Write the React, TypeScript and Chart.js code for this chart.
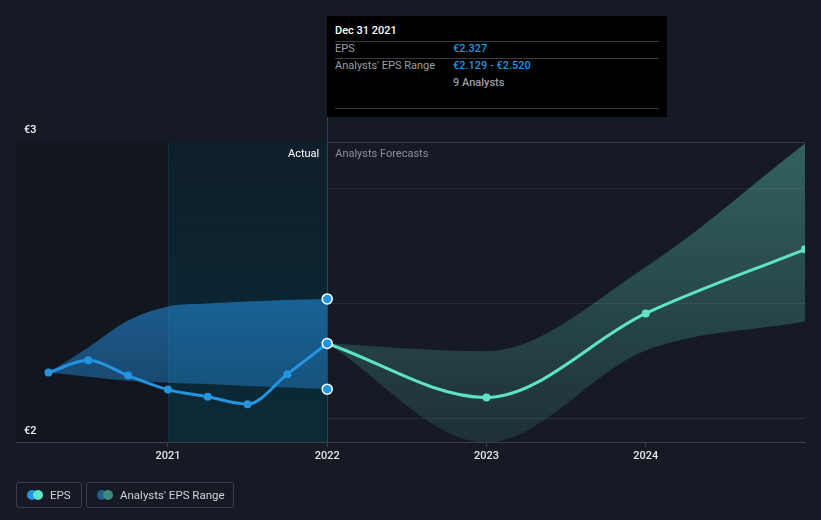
import React, { useEffect, useRef } from "react";
import { Chart, registerables } from "chart.js";

Chart.register(...registerables);

// ---- data ----
const pastDates = [2020.25, 2020.5, 2020.75, 2021.0, 2021.25, 2021.5, 2021.75, 2022.0];
const pastEps = [2.201, 2.254, 2.188, 2.127, 2.096, 2.064, 2.194, 2.327];
const pastHigh = [2.201, 2.31, 2.426, 2.487, 2.5, 2.509, 2.515, 2.52];
const pastLow = [2.201, 2.183, 2.165, 2.157, 2.151, 2.143, 2.136, 2.129];

const fcDates = [2022.0, 2023.0, 2024.0, 2025.0];
const fcEps = [2.327, 2.093, 2.457, 2.735];
const fcHigh = [2.327, 2.293, 2.658, 3.194];
const fcLow = [2.327, 1.897, 2.296, 2.422];

const highlightDate = 2022.0;
const highlightValues = [2.52, 2.327, 2.129];

const xTicks = [2021, 2022, 2023, 2024];
const yGrid = [2.0, 2.5, 3.0, 3.2];
const yLabelTop = "€3";
const yLabelBottom = "€2";

const FONT = "Roboto, 'Noto Sans', sans-serif";
const BG = "#151a24";
const BLUE = "#2394df";
const MINT = "#5ee3c8";

const zip = (xs: number[], ys: number[]) => xs.map((x, i) => ({ x, y: ys[i] }));

const overlayPlugin = {
  id: "overlay",
  beforeDatasetsDraw(chart: any) {
    const { ctx, chartArea, scales } = chart;
    const x = scales.x;
    const x21 = x.getPixelForValue(2021);
    const x22 = x.getPixelForValue(2022);
    ctx.save();
    ctx.fillStyle = "#12161f";
    ctx.fillRect(chartArea.left, chartArea.top, x21 - chartArea.left, chartArea.bottom - chartArea.top);
    const g = ctx.createLinearGradient(0, chartArea.top, 0, chartArea.bottom);
    g.addColorStop(0, "#0e1f2b");
    g.addColorStop(1, "#0b2a38");
    ctx.fillStyle = g;
    ctx.fillRect(x21, chartArea.top, x22 - x21, chartArea.bottom - chartArea.top);
    ctx.strokeStyle = "#11303f";
    ctx.lineWidth = 1;
    ctx.beginPath();
    ctx.moveTo(Math.round(x21) + 0.5, chartArea.top);
    ctx.lineTo(Math.round(x21) + 0.5, chartArea.bottom);
    ctx.stroke();
    ctx.strokeStyle = "#234656";
    ctx.beginPath();
    ctx.moveTo(Math.round(x22) + 0.5, 117);
    ctx.lineTo(Math.round(x22) + 0.5, chartArea.bottom);
    ctx.stroke();

    ctx.font = `11px ${FONT}`;
    ctx.textBaseline = "middle";
    ctx.fillStyle = "#ffffff";
    ctx.textAlign = "right";
    ctx.fillText("Actual", x22 - 8, chartArea.top + 12);
    ctx.fillStyle = "#8c9099";
    ctx.textAlign = "left";
    ctx.fillText("Analysts Forecasts", x22 + 8, chartArea.top + 12);

    ctx.fillStyle = "#f0f0f0";
    ctx.font = `500 11px ${FONT}`;
    ctx.textAlign = "left";
    ctx.fillText(yLabelTop, chartArea.left + 8, chartArea.top - 12);
    ctx.fillText(yLabelBottom, chartArea.left + 8, chartArea.bottom - 11);
    ctx.restore();
  },
};

function bandGradient(chart: any, top: string, bottom: string) {
  const { ctx, chartArea } = chart;
  if (!chartArea) return top;
  const g = ctx.createLinearGradient(0, chartArea.top, 0, chartArea.bottom);
  g.addColorStop(0, top);
  g.addColorStop(1, bottom);
  return g;
}

export default function App() {
  const ref = useRef<HTMLCanvasElement>(null);
  useEffect(() => {
    if (!ref.current) return;
    const chart = new Chart(ref.current, {
      type: "line",
      data: {
        datasets: [
          {
            data: highlightValues.map((y) => ({ x: highlightDate, y })),
            showLine: false,
            pointRadius: 5,
            pointBackgroundColor: BLUE,
            pointBorderColor: "#ffffff",
            pointBorderWidth: 1.5,
          } as any,
          {
            data: zip(pastDates, pastEps),
            borderColor: BLUE,
            borderWidth: 3,
            pointRadius: 4,
            pointBackgroundColor: BLUE,
            pointBorderWidth: 0,
            cubicInterpolationMode: "monotone",
            fill: false,
          },
          {
            data: zip(fcDates, fcEps),
            borderColor: MINT,
            borderWidth: 3,
            pointRadius: [0, 4, 4, 4],
            pointBackgroundColor: MINT,
            pointBorderWidth: 0,
            cubicInterpolationMode: "monotone",
            fill: false,
            clip: 0,
          },
          {
            data: zip(pastDates, pastHigh),
            borderWidth: 0,
            pointRadius: 0,
            cubicInterpolationMode: "monotone",
            fill: 4,
            backgroundColor: (c: any) => bandGradient(c.chart, "rgba(36,150,235,0.8)", "rgba(36,150,235,0.3)"),
          },
          {
            data: zip(pastDates, pastLow),
            borderWidth: 0,
            pointRadius: 0,
            cubicInterpolationMode: "monotone",
            fill: false,
          },
          {
            data: zip(fcDates, fcHigh),
            borderWidth: 0,
            pointRadius: 0,
            cubicInterpolationMode: "monotone",
            fill: 6,
            clip: 0,
            backgroundColor: (c: any) => bandGradient(c.chart, "rgba(88,190,170,0.44)", "rgba(88,190,170,0.14)"),
          },
          {
            data: zip(fcDates, fcLow),
            borderWidth: 0,
            pointRadius: 0,
            cubicInterpolationMode: "monotone",
            fill: false,
            clip: 0,
          },
        ] as any,
      },
      options: {
        animation: false,
        responsive: false,
        layout: { padding: { top: 142, left: 16, right: 16, bottom: 48 } },
        plugins: { legend: { display: false }, tooltip: { enabled: false } },
        scales: {
          x: {
            type: "linear",
            min: 2020.046,
            max: 2025.0,
            afterBuildTicks: (axis: any) => {
              axis.ticks = xTicks.map((value) => ({ value }));
            },
            afterFit: (axis: any) => {
              axis.height = 30;
            },
            grid: { drawOnChartArea: false, drawTicks: true, tickLength: 5, color: "#3a3f4a" },
            border: { display: true, color: "#3a3f4a" },
            ticks: {
              color: "#e6e6e6",
              font: { family: FONT, size: 11, weight: 500 },
              padding: 3,
              callback: (v: any) => String(v),
            },
          },
          y: {
            type: "linear",
            min: 1.9,
            max: 3.2,
            afterBuildTicks: (axis: any) => {
              axis.ticks = yGrid.map((value) => ({ value }));
            },
            afterFit: (axis: any) => {
              axis.width = 0;
            },
            ticks: { display: false },
            border: { display: false },
            grid: {
              drawTicks: false,
              color: (c: any) => (c.tick && c.tick.value >= 3.2 ? "#3a3f4a" : "#262c37"),
            },
          },
        },
      } as any,
      plugins: [overlayPlugin],
    });
    return () => chart.destroy();
  }, []);

  const txt: React.CSSProperties = { position: "absolute", fontFamily: FONT, fontSize: 11, lineHeight: "14px", whiteSpace: "nowrap" };
  const sep = (top: number): React.CSSProperties => ({ position: "absolute", left: 8, right: 8, top, height: 1, background: "#3c3c3c" });
  const legendBox = (left: number, width: number): React.CSSProperties => ({
    position: "absolute", left, top: 482, width, height: 26, border: "1px solid #3a3f4a", borderRadius: 3, boxSizing: "border-box",
  });
  const dot = (left: number, color: string): React.CSSProperties => ({
    position: "absolute", left, top: 7, width: 10, height: 10, borderRadius: 5, background: color,
  });

  return (
    <div style={{ position: "absolute", left: 0, top: 0, width: 821, height: 520, background: BG, overflow: "hidden" }}>
      <canvas ref={ref} width={821} height={520} style={{ position: "absolute", left: 0, top: 0 }} />
      <div style={{ position: "absolute", left: 327, top: 16, width: 340, height: 101, background: "#000" }}>
        <div style={{ ...txt, left: 8, top: 8, color: "#fff", fontWeight: 500 }}>Dec 31 2021</div>
        <div style={sep(25)} />
        <div style={{ ...txt, left: 8, top: 26, color: "#9a9ea6" }}>EPS</div>
        <div style={{ ...txt, left: 126, top: 26, color: BLUE, fontWeight: 500 }}>€2.327</div>
        <div style={sep(42)} />
        <div style={{ ...txt, left: 8, top: 43, color: "#9a9ea6" }}>Analysts' EPS Range</div>
        <div style={{ ...txt, left: 126, top: 43, color: BLUE, fontWeight: 500 }}>€2.129 - €2.520</div>
        <div style={{ ...txt, left: 126, top: 60, color: "#9a9ea6", fontWeight: 500 }}>9 Analysts</div>
        <div style={sep(92)} />
      </div>
      <div style={legendBox(16, 66)}>
        <div style={dot(10, BLUE)} />
        <div style={dot(16, MINT)} />
        <div style={{ ...txt, left: 33, top: 5, color: "#d0d3d8", fontSize: 11.5 }}>EPS</div>
      </div>
      <div style={legendBox(86, 148)}>
        <div style={dot(10, "#1f5f8b")} />
        <div style={dot(16, "#3d8a80")} />
        <div style={{ ...txt, left: 33, top: 5, color: "#d0d3d8", fontSize: 11.5 }}>Analysts' EPS Range</div>
      </div>
    </div>
  );
}
